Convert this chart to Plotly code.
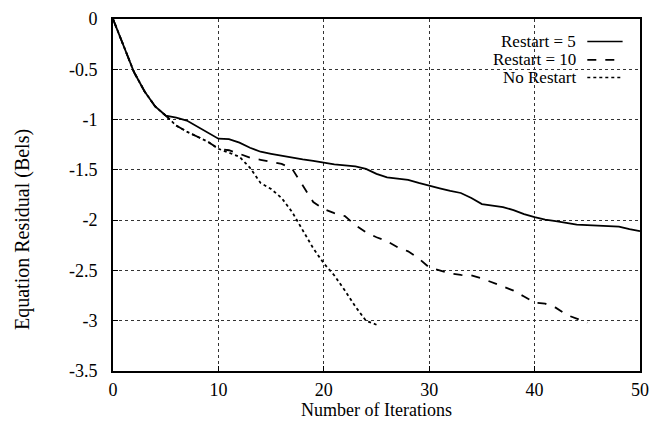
import plotly.graph_objects as go

iters_r5 = list(range(0, 51))
res_r5 = [0, -0.26, -0.53, -0.72, -0.87, -0.96, -0.98, -1.01, -1.07, -1.13,
          -1.19, -1.195, -1.23, -1.28, -1.32, -1.34, -1.36, -1.38, -1.395, -1.41,
          -1.43, -1.445, -1.455, -1.465, -1.49, -1.54, -1.575, -1.59, -1.60, -1.63,
          -1.66, -1.685, -1.71, -1.73, -1.78, -1.84, -1.855, -1.87, -1.90, -1.94,
          -1.97, -1.995, -2.01, -2.03, -2.045, -2.05, -2.055, -2.06, -2.065, -2.09,
          -2.11]

iters_r10 = list(range(0, 46))
res_r10 = [0, -0.26, -0.53, -0.72, -0.87, -0.96, -1.06, -1.12, -1.17, -1.22,
           -1.29, -1.305, -1.34, -1.38, -1.40, -1.42, -1.44, -1.49, -1.65, -1.82,
           -1.89, -1.93, -1.96, -2.05, -2.12, -2.17, -2.21, -2.27, -2.31, -2.38,
           -2.47, -2.50, -2.53, -2.545, -2.55, -2.58, -2.62, -2.66, -2.70, -2.76,
           -2.82, -2.83, -2.87, -2.94, -2.98, -3.02]

iters_nr = list(range(0, 26))
res_nr = [0, -0.26, -0.53, -0.72, -0.87, -0.96, -1.06, -1.12, -1.17, -1.22,
          -1.29, -1.33, -1.37, -1.48, -1.63, -1.69, -1.78, -1.92, -2.10, -2.28,
          -2.43, -2.55, -2.70, -2.86, -3.00, -3.04]

series_names = ["Restart = 5", "Restart = 10", "No Restart"]
x_ticks = [0, 10, 20, 30, 40, 50]
y_ticks = [0, -0.5, -1, -1.5, -2, -2.5, -3, -3.5]
y_tick_text = ["0", "-0.5", "-1", "-1.5", "-2", "-2.5", "-3", "-3.5"]

FONT = "Liberation Serif, Times New Roman, serif"
dashes = ["solid", "dash", "dot"]

fig = go.Figure()
for xs, ys, name, d in zip([iters_r5, iters_r10, iters_nr],
                           [res_r5, res_r10, res_nr], series_names, dashes):
    fig.add_trace(go.Scatter(x=xs, y=ys, mode="lines", name=name,
                             line=dict(color="black", width=1.8, dash=d),
                             showlegend=False))

axis_common = dict(showline=True, linecolor="black", linewidth=2, mirror=True,
                   ticks="inside", ticklen=5, tickcolor="black",
                   showgrid=True, gridcolor="#333", gridwidth=1, griddash="dot",
                   zeroline=False, tickfont=dict(family=FONT, size=18, color="black"))

fig.update_xaxes(range=[0, 50], tickvals=x_ticks, ticklabelstandoff=1, **axis_common)
fig.update_yaxes(range=[-3.5, 0], tickvals=y_ticks, ticktext=y_tick_text,
                 ticklabelstandoff=10, **axis_common)

# manual legend (text left, line sample right)
leg_y = [0.936, 0.884, 0.834]
for name, d, yy in zip(series_names, dashes, leg_y):
    fig.add_annotation(x=0.882, y=yy, xref="paper", yref="paper", text=name,
                       showarrow=False, xanchor="right", yanchor="middle",
                       font=dict(family=FONT, size=17, color="black"))
    fig.add_shape(type="line", xref="paper", yref="paper", x0=0.90, x1=0.967,
                  y0=yy, y1=yy, line=dict(color="black", width=1.6, dash=d))

fig.add_annotation(x=-0.173, y=0.403, xref="paper", yref="paper",
                   text="Equation Residual (Bels)", showarrow=False, textangle=-90,
                   xanchor="center", yanchor="middle",
                   font=dict(family=FONT, size=20, color="black"))
fig.add_annotation(x=0.5, y=-0.112, xref="paper", yref="paper",
                   text="Number of Iterations", showarrow=False,
                   xanchor="center", yanchor="middle",
                   font=dict(family=FONT, size=18, color="black"))

fig.update_layout(width=664, height=421, margin=dict(l=113, r=24, t=9, b=50),
                  plot_bgcolor="white", paper_bgcolor="white",
                  font=dict(family=FONT, color="black"))

fig.write_html("out.html")
